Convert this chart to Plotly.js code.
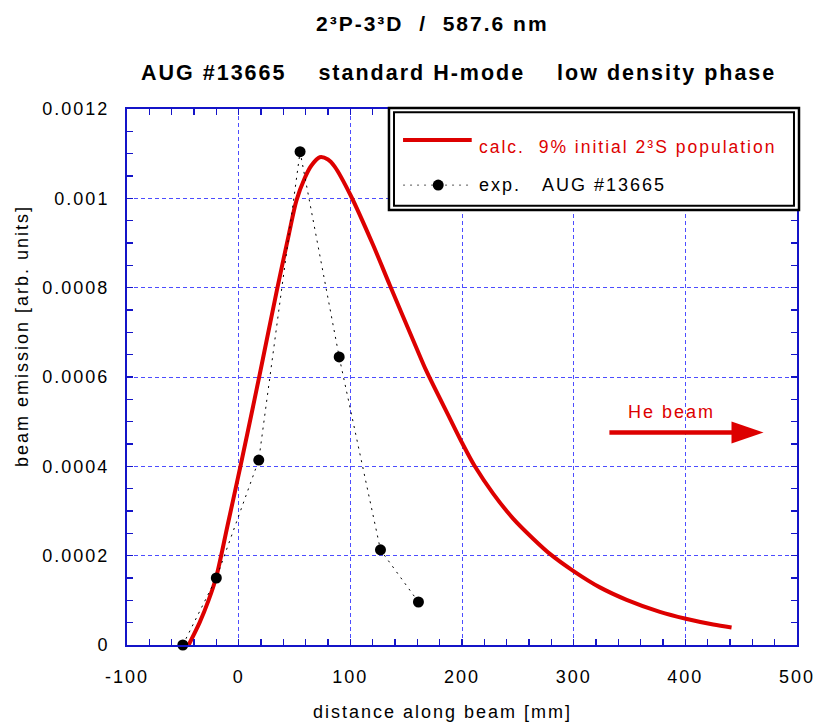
<!DOCTYPE html>
<html><head><meta charset="utf-8">
<script src="https://cdn.plot.ly/plotly-3.0.1.min.js"></script>
<style>
html,body{margin:0;padding:0;background:#fff;}
svg text{letter-spacing:2px;}
</style></head><body>
<div id="chart" style="width:819px;height:726px;"></div>
<script>
// calculated curve (9% initial 2^3S population)
const calcX = [-44.8, -35, -27, -20, -10, 1.5, 14.3, 21.8, 34.3, 45, 51.7, 59.1, 65, 72.6, 80, 86, 100, 120.3, 135.3, 159.2, 168.2, 189, 200.4, 211.5, 227.9, 245.8, 263.7, 278.7, 300.2, 323.5, 347.4, 377.2, 400.5, 425, 441.4];
const calcY = [0, 0.00005, 0.0001, 0.000153, 0.000267, 0.000399, 0.000551, 0.000642, 0.000795, 0.00092, 0.000995, 0.001045, 0.001073, 0.001092, 0.001087, 0.001071, 0.001008, 0.000896, 0.000806, 0.000665, 0.000613, 0.000508, 0.000451, 0.0004, 0.000339, 0.000283, 0.000238, 0.000204, 0.000165, 0.000129, 0.0001012, 0.0000742, 0.0000588, 0.0000458, 0.0000391];
// experimental points AUG #13665
const expX = [-50, -20, 18, 55, 90, 127, 161];
const expY = [0, 0.00015, 0.000414, 0.0011045, 0.000645, 0.000213, 0.0000963];
// ticks
const xTickVals = [-100, 0, 100, 200, 300, 400, 500];
const xTickText = ['-100', '0', '100', '200', '300', '400', '500'];
const yTickVals = [0, 0.0002, 0.0004, 0.0006, 0.0008, 0.001, 0.0012];
const yTickText = ['0', '0.0002', '0.0004', '0.0006', '0.0008', '0.001', '0.0012'];
// arrow "He beam" (data coords)
const arrowX = [332, 470];
const arrowY = 0.000476;

const RED = '#dd0000';
const AX = '#1414c8';
const GRID = '#4d4dff';
const FONT = 'Liberation Sans, Arial, sans-serif';

const traces = [
  {x: calcX, y: calcY, mode: 'lines', line: {color: RED, width: 4, shape: 'spline', smoothing: 0.8}, showlegend: false, hoverinfo: 'skip'},
  {x: expX, y: expY, mode: 'lines+markers', line: {color: '#000', width: 1, dash: '2px,5px'},
   marker: {color: '#000', size: 11}, cliponaxis: false, showlegend: false}
];

function axisCommon(extra) {
  return Object.assign({
    showline: true, linecolor: AX, linewidth: 2, mirror: 'allticks',
    ticks: 'inside', ticklen: 6, tickcolor: AX, tickwidth: 1.5,
    showgrid: true, gridcolor: GRID, gridwidth: 1, griddash: '4px,3px',
    zeroline: false, tickmode: 'array',
    tickfont: {family: FONT, size: 18, color: '#000'}
  }, extra);
}

const layout = {
  width: 819, height: 726,
  margin: {l: 127, r: 22, t: 109, b: 81},
  paper_bgcolor: '#fff', plot_bgcolor: '#fff',
  showlegend: false,
  xaxis: axisCommon({range: [-100, 500], tickvals: xTickVals, ticktext: xTickText, ticklabelstandoff: 14,
    minor: {tickmode: 'linear', tick0: 0, dtick: 20, ticks: 'inside', ticklen: 6, tickcolor: AX, tickwidth: 1.5, showgrid: false}}),
  yaxis: axisCommon({range: [0, 0.0012], tickvals: yTickVals, ticktext: yTickText, ticklabelstandoff: 12,
    minor: {tickmode: 'linear', tick0: 0, dtick: 0.00005, ticks: 'inside', ticklen: 6, tickcolor: AX, tickwidth: 1.5, showgrid: false}}),
  shapes: [
    // legend box (double frame)
    {type: 'rect', xref: 'paper', yref: 'paper', x0: 0.391, x1: 1.003, y0: 0.8116, y1: 1.0019,
     line: {color: '#000', width: 2.5}, fillcolor: '#fff', layer: 'above'},
    {type: 'rect', xref: 'paper', yref: 'paper', x0: 0.3985, x1: 0.9955, y0: 0.8195, y1: 0.994,
     line: {color: '#000', width: 2}, fillcolor: 'rgba(0,0,0,0)', layer: 'above'},
    // legend sample: calc
    {type: 'line', xref: 'paper', yref: 'paper', x0: 0.412, x1: 0.5145, y0: 0.9422, y1: 0.9422,
     line: {color: RED, width: 4}, layer: 'above'},
    // legend sample: exp
    {type: 'line', xref: 'paper', yref: 'paper', x0: 0.412, x1: 0.5125, y0: 0.858, y1: 0.858,
     line: {color: '#555', width: 1, dash: '2px,5px'}, layer: 'above'},
    {type: 'circle', xref: 'paper', yref: 'paper', xsizemode: 'pixel', ysizemode: 'pixel',
     xanchor: 0.4645, yanchor: 0.858, x0: -5.5, x1: 5.5, y0: -5.5, y1: 5.5,
     fillcolor: '#000', line: {color: '#000', width: 0}, layer: 'above'},
    // He beam arrow shaft
    {type: 'line', xref: 'x', yref: 'y', x0: arrowX[0], x1: arrowX[1] - 25, y0: arrowY, y1: arrowY,
     line: {color: RED, width: 4.5}, layer: 'above'},
    // arrow head
    {type: 'path', xref: 'x', yref: 'y', xsizemode: 'pixel', ysizemode: 'pixel',
     xanchor: arrowX[1], yanchor: arrowY, path: 'M-32,-11 L0,0 L-32,11 Z',
     fillcolor: RED, line: {color: RED, width: 0}, layer: 'above'}
  ],
  annotations: [
    {xref: 'paper', yref: 'paper', x: 0.4567, y: 1.1586, xanchor: 'center', yanchor: 'middle', showarrow: false,
     text: '<b>2\u00b3P-3\u00b3D\u00a0\u00a0/\u00a0\u00a0587.6 nm</b>', font: {family: FONT, size: 21, color: '#000'}},
    {xref: 'paper', yref: 'paper', x: 0.4955, y: 1.0672, xanchor: 'center', yanchor: 'middle', showarrow: false,
     text: '<b>AUG #13665\u00a0\u00a0\u00a0\u00a0standard H-mode\u00a0\u00a0\u00a0\u00a0low density phase</b>', font: {family: FONT, size: 21.5, color: '#000'}},
    {xref: 'paper', yref: 'paper', x: 0.4716, y: -0.125, xanchor: 'center', yanchor: 'middle', showarrow: false,
     text: 'distance along beam [mm]', font: {family: FONT, size: 18, color: '#000'}},
    {xref: 'paper', yref: 'paper', x: (22 - 127) / 670, y: (645 - 336) / 536, xanchor: 'center', yanchor: 'middle', showarrow: false,
     textangle: -90, text: 'beam emission [arb. units]', font: {family: FONT, size: 18, color: '#000'}},
    {xref: 'paper', yref: 'paper', x: 0.5224, y: 0.929, xanchor: 'left', yanchor: 'middle', showarrow: false,
     text: 'calc.\u00a0\u00a09% initial 2\u00b3S population', font: {family: FONT, size: 17.5, color: RED}},
    {xref: 'paper', yref: 'paper', x: 0.5224, y: 0.858, xanchor: 'left', yanchor: 'middle', showarrow: false,
     text: 'exp.\u00a0\u00a0\u00a0AUG #13665', font: {family: FONT, size: 18, color: '#000'}},
    {xref: 'x', yref: 'y', x: 388, y: 0.000522, xanchor: 'center', yanchor: 'middle', showarrow: false,
     text: 'He beam', font: {family: FONT, size: 18, color: RED}}
  ]
};

Plotly.newPlot('chart', traces, layout, {displayModeBar: false, staticPlot: true});
</script>
</body></html>
